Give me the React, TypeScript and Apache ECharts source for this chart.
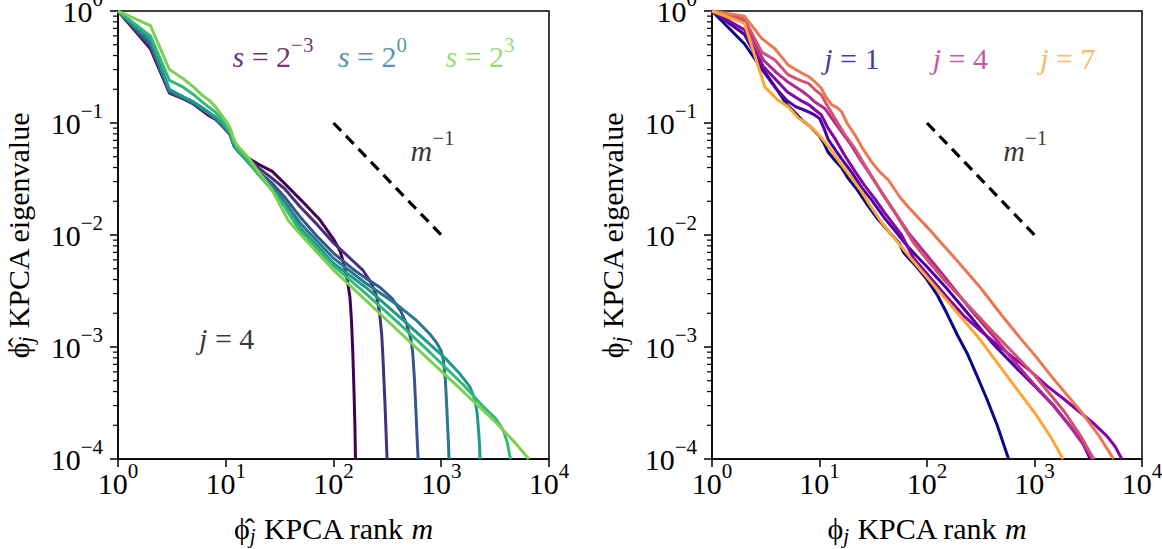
import React, { useEffect, useRef } from "react";
import * as echarts from "echarts";

const FONT = '"Liberation Serif", "DejaVu Serif", serif';

// ---- Left panel: j = 4, bandwidth s = 2^-3 ... 2^3 (viridis) ----
const sLabels = ["2^-3", "2^-2", "2^-1", "2^0", "2^1", "2^2", "2^3"];
const sColors = ["#440154", "#472f7d", "#39568c", "#2a788e", "#1f9a8a", "#35b779", "#7ad151"];

const sMinus3 = [[1,1],[2,0.46],[3,0.185],[4,0.165],[5,0.148],[6,0.13],[7,0.116],[8,0.108],[9,0.097],[10,0.087],[11,0.079],[12,0.062],[13,0.057],[16,0.049],[20,0.043],[27,0.037],[35,0.029],[50,0.0205],[75,0.0136],[100,0.0092],[115,0.0072],[123,0.0058],[133,0.0042],[142,0.0028],[147,0.0017],[151,0.0009],[155,0.0004],[158,0.0002],[160,0.0001]];
const sMinus2 = [[1,1],[2,0.48],[3,0.19],[4,0.167],[5,0.15],[6,0.132],[7,0.12],[8,0.11],[9,0.098],[10,0.088],[11,0.08],[12,0.063],[13,0.056],[16,0.047],[20,0.04],[27,0.032],[35,0.026],[49,0.0179],[70,0.0125],[100,0.0085],[140,0.0063],[189,0.0048],[225,0.0037],[252,0.0028],[268,0.002],[280,0.0013],[288,0.0008],[294,0.0005],[300,0.00032],[307,0.00018],[314,0.0001]];
const sMinus1 = [[1,1],[2,0.5],[3,0.19],[4,0.168],[5,0.15],[6,0.133],[7,0.12],[8,0.11],[9,0.098],[10,0.088],[11,0.078],[12,0.062],[13,0.056],[16,0.046],[20,0.037],[27,0.029],[35,0.022],[49,0.0145],[70,0.0098],[100,0.0069],[150,0.005],[200,0.0041],[271,0.0034],[350,0.0027],[420,0.0021],[478,0.0016],[520,0.0012],[543,0.0009],[565,0.0005],[583,0.00026],[598,0.00015],[610,0.0001]];
const s0 = [[1,1],[2,0.53],[3,0.195],[4,0.17],[5,0.152],[6,0.135],[7,0.122],[8,0.111],[9,0.1],[10,0.09],[11,0.08],[12,0.063],[13,0.056],[16,0.045],[20,0.036],[27,0.027],[35,0.02],[49,0.0128],[70,0.0089],[100,0.0062],[200,0.0037],[386,0.0024],[600,0.0017],[787,0.0013],[900,0.0011],[1000,0.00092],[1050,0.00075],[1090,0.00052],[1120,0.00032],[1145,0.0002],[1165,0.00014],[1180,0.0001]];
const s1 = [[1,1],[2,0.56],[3,0.2],[4,0.172],[5,0.155],[6,0.138],[7,0.124],[8,0.113],[9,0.102],[10,0.092],[11,0.081],[12,0.064],[13,0.056],[16,0.045],[20,0.035],[27,0.026],[35,0.019],[49,0.0116],[70,0.0081],[100,0.0056],[200,0.0034],[400,0.0019],[800,0.00104],[1123,0.00077],[1500,0.00057],[1849,0.00044],[2050,0.00034],[2150,0.00026],[2230,0.00017],[2270,0.00013],[2290,0.0001]];
const s2 = [[1,1],[2,0.6],[3,0.24],[4,0.21],[5,0.18],[6,0.155],[7,0.138],[8,0.125],[9,0.11],[10,0.095],[11,0.083],[12,0.066],[13,0.058],[16,0.046],[20,0.035],[27,0.025],[35,0.018],[49,0.0108],[70,0.0076],[100,0.0053],[200,0.003],[400,0.00164],[800,0.00088],[1600,0.00046],[2400,0.0003],[3200,0.00023],[3767,0.00018],[4100,0.00014],[4300,0.00011],[4400,0.0001]];
const s3 = [[1,1],[2,0.74],[3,0.3],[4,0.25],[5,0.21],[6,0.178],[7,0.16],[8,0.14],[9,0.12],[10,0.105],[11,0.09],[12,0.07],[13,0.062],[16,0.05],[20,0.037],[27,0.025],[38,0.0135],[49,0.0102],[100,0.00486],[200,0.0026],[400,0.00139],[800,0.000745],[1600,0.0004],[3200,0.000213],[5000,0.000135],[6500,0.0001]];
const sSeries = [sMinus3, sMinus2, sMinus1, s0, s1, s2, s3];

// ---- Right panel: j = 1 ... 7 (plasma) ----
const jLabels = ["1", "2", "3", "4", "5", "6", "7"];
const jColors = ["#0d0887", "#4c02a1", "#8305a7", "#b12a90", "#d35171", "#ec7853", "#fca636"];

const j1 = [[1,1],[2,0.51],[3,0.29],[4,0.2],[5,0.145],[6,0.122],[7,0.104],[8,0.095],[9,0.085],[10,0.076],[11,0.066],[12,0.055],[14,0.046],[16,0.04],[18.5,0.032],[22,0.026],[28,0.0185],[35,0.0138],[50,0.0094],[55,0.0085],[61,0.0069],[80,0.0052],[100,0.004],[125,0.0029],[153,0.002],[190,0.0013],[236,0.00088],[290,0.00056],[362,0.00034],[450,0.0002],[574,0.0001]];
const j2 = [[1,1],[2,0.62],[3,0.3],[4,0.2],[5,0.158],[6,0.14],[7,0.132],[8,0.125],[9,0.118],[10,0.11],[11,0.09],[12,0.072],[13,0.064],[16,0.048],[20,0.036],[25,0.026],[30,0.021],[40.6,0.014],[50,0.011],[62,0.0085],[80,0.0065],[100,0.0052],[150,0.0034],[250,0.0019],[400,0.0011],[700,0.00063],[1000,0.00045],[1500,0.0003],[2200,0.00019],[2800,0.00014],[3300,0.0001]];
const j3 = [[1,1],[2,0.68],[3,0.32],[4,0.24],[5,0.19],[6,0.17],[7,0.155],[8,0.145],[9,0.132],[10.4,0.118],[12,0.09],[13.9,0.073],[17,0.052],[21.4,0.037],[26,0.028],[32.8,0.021],[40,0.016],[58,0.01],[75,0.0062],[100,0.0045],[153,0.0028],[220,0.0019],[313,0.0014],[450,0.00105],[640,0.0008],[900,0.00062],[1306,0.00045],[1900,0.00034],[2670,0.00026],[3500,0.00021],[4720,0.00016],[5600,0.00013],[6500,0.0001]];
const j4 = [[1,1],[2,0.8],[3,0.365],[4,0.28],[5,0.235],[6,0.21],[7,0.19],[8,0.172],[9,0.155],[11.2,0.135],[13,0.11],[16.1,0.083],[20,0.062],[24.7,0.045],[30,0.034],[37.8,0.024],[50,0.016],[67,0.0105],[100,0.0066],[150,0.0041],[250,0.0022],[400,0.0013],[700,0.00068],[1000,0.00046],[1500,0.0003],[2200,0.00019],[3000,0.000125],[3450,0.0001]];
const j5 = [[1,1],[2,0.85],[2.9,0.43],[3.85,0.365],[5.1,0.27],[6,0.25],[7,0.235],[7.9,0.226],[9,0.2],[10.4,0.178],[12,0.14],[13.9,0.11],[17,0.08],[21.4,0.059],[26,0.043],[32.8,0.03],[40,0.022],[50,0.016],[75,0.0085],[100,0.006],[150,0.0038],[219,0.0026],[400,0.0014],[640,0.00088],[1000,0.00056],[1865,0.00027],[2700,0.00016],[3550,0.0001]];
const j6 = [[1,1],[2,0.9],[2.9,0.57],[3.85,0.46],[5.1,0.33],[6,0.3],[7,0.275],[7.9,0.26],[9,0.235],[10.4,0.204],[11.5,0.17],[13,0.145],[14.5,0.138],[16.1,0.126],[18,0.1],[21.4,0.078],[25,0.06],[30.5,0.045],[36,0.037],[43.7,0.031],[56.5,0.0215],[67,0.0178],[107,0.011],[137,0.0084],[200,0.0056],[313,0.0034],[500,0.0019],[738,0.0012],[1000,0.00085],[1500,0.00052],[2670,0.00027],[4000,0.00016],[5440,0.0001]];
const j7 = [[1,1],[2,0.78],[3.1,0.21],[4.1,0.16],[5.1,0.14],[6.4,0.11],[7.9,0.096],[9,0.086],[11.2,0.068],[13,0.056],[16.1,0.042],[20,0.032],[24.7,0.0244],[30,0.018],[37.8,0.013],[54,0.0085],[75,0.0058],[100,0.0042],[153,0.0026],[313,0.00116],[640,0.00046],[1000,0.00026],[1400,0.00016],[1842,0.0001]];
const jSeries = [j1, j2, j3, j4, j5, j6, j7];

// reference slope m^-1
const refLine = [[100, 0.1], [1000, 0.01]];

// y minor ticks (2..9 x 10^k)
const minorMultipliers = [2, 3, 4, 5, 6, 7, 8, 9];
const minorDecades = [-4, -3, -2, -1];

// annotation anchors [m, value]
const leftNotes = [
  { pos: [27.4, 0.39], text: "{it|s} = 2{sup|−3}", color: "#440154" },
  { pos: [230, 0.39], text: "{it|s} = 2{sup|0}", color: "#2a788e" },
  { pos: [2290, 0.39], text: "{it|s} = 2{sup|3}", color: "#7ad151" },
  { pos: [829, 0.057], text: "{it|m}{sup|−1}", color: "#000000" },
  { pos: [10.2, 0.0012], text: "{it|j} = 4", color: "#000000" },
];
const rightNotes = [
  { pos: [20, 0.38], text: "{it|j} = 1", color: "#0d0887" },
  { pos: [204, 0.38], text: "{it|j} = 4", color: "#b12a90" },
  { pos: [2041, 0.38], text: "{it|j} = 7", color: "#fca636" },
  { pos: [821, 0.057], text: "{it|m}{sup|−1}", color: "#000000" },
];

function richFor(color: string, base = 30) {
  return {
    it: { fontFamily: FONT, fontSize: base, fontStyle: "italic", color, lineHeight: base },
    sup: { fontFamily: FONT, fontSize: Math.round(base * 0.7), color, lineHeight: Math.round(base * 0.7), padding: [0, 0, Math.round(base * 0.8), 0] },
    sub: { fontFamily: FONT, fontSize: Math.round(base * 0.7), fontStyle: "italic", color, lineHeight: Math.round(base * 0.7), padding: [Math.round(base * 0.5), 0, 0, 0] },
  };
}

function expLabel(v: number) {
  const e = Math.round(Math.log10(v));
  return "10{sup|" + (e < 0 ? "−" + -e : String(e)) + "}";
}

function makeAxes(gi: number, xName: string, yName: string) {
  const common = {
    gridIndex: gi,
    type: "log" as const,
    logBase: 10,
    axisLine: { show: true, lineStyle: { color: "#000", width: 1.5 } },
    axisTick: { show: true, length: 8, lineStyle: { color: "#000", width: 1.5 } },
    splitLine: { show: false },
    minorTick: { show: false },
    nameLocation: "middle" as const,
    nameTextStyle: { fontFamily: FONT, fontSize: 30, color: "#000", lineHeight: 30, rich: richFor("#000") },
  };
  const x = {
    ...common,
    min: 1,
    max: 10000,
    axisLabel: { margin: 9, formatter: expLabel, fontFamily: FONT, fontSize: 30, color: "#000", lineHeight: 30, rich: richFor("#000"), showMinLabel: true, showMaxLabel: true },
    name: xName,
    nameGap: 44,
  };
  const y = {
    ...common,
    min: 0.0001,
    max: 1,
    axisLabel: { margin: 15, formatter: expLabel, fontFamily: FONT, fontSize: 30, color: "#000", lineHeight: 30, rich: richFor("#000"), showMinLabel: true, showMaxLabel: true },
    name: yName,
    nameRotate: 90,
    nameGap: 85,
  };
  return { x, y };
}

export default function App() {
  const ref = useRef<HTMLDivElement>(null);
  useEffect(() => {
    if (!ref.current) return;
    const chart = echarts.init(ref.current, null, { renderer: "svg" });
    const left = makeAxes(0, "ϕ\u0302{sub|j} KPCA rank {it|m}", "ϕ\u0302{sub|j} KPCA eigenvalue");
    const right = makeAxes(1, "ϕ{sub|j} KPCA rank {it|m}", "ϕ{sub|j} KPCA eigenvalue");

    const minorData: number[][] = [];
    minorDecades.forEach((d) => minorMultipliers.forEach((k) => minorData.push([1, k * Math.pow(10, d)])));

    const series: any[] = [];
    sSeries.forEach((data, i) =>
      series.push({
        type: "line", name: "s=" + sLabels[i], xAxisIndex: 0, yAxisIndex: 0, data, showSymbol: false, symbol: "none",
        lineStyle: { color: sColors[i], width: 3 }, itemStyle: { color: sColors[i] }, z: 2 + i * 0.01,
      })
    );
    jSeries.forEach((data, i) =>
      series.push({
        type: "line", name: "j=" + jLabels[i], xAxisIndex: 1, yAxisIndex: 1, data, showSymbol: false, symbol: "none",
        lineStyle: { color: jColors[i], width: 3 }, itemStyle: { color: jColors[i] }, z: 2 + i * 0.01,
      })
    );
    [0, 1].forEach((gi) => {
      series.push({
        type: "line", xAxisIndex: gi, yAxisIndex: gi, data: refLine, showSymbol: false, symbol: "none",
        lineStyle: { color: "#000", width: 3.2, type: [11, 7] }, z: 3,
      });
      series.push({
        type: "custom", xAxisIndex: gi, yAxisIndex: gi, data: minorData, silent: true, clip: false, z: 5,
        renderItem: (_p: any, api: any) => {
          const pt = api.coord([api.value(0), api.value(1)]);
          return { type: "line", shape: { x1: pt[0] - 5, y1: pt[1], x2: pt[0], y2: pt[1] }, style: { stroke: "#000", lineWidth: 1.2 } };
        },
      });
      const notes = gi === 0 ? leftNotes : rightNotes;
      notes.forEach((n) =>
        series.push({
          type: "scatter", xAxisIndex: gi, yAxisIndex: gi, data: [n.pos], symbolSize: 1, silent: true, z: 10,
          itemStyle: { color: "transparent" },
          label: {
            show: true, position: "inside", formatter: n.text, fontFamily: FONT, fontSize: 30, lineHeight: 30,
            color: n.color, rich: richFor(n.color),
          },
        })
      );
    });

    chart.setOption({
      animation: false,
      backgroundColor: "#fff",
      grid: [
        { left: 118, top: 11, width: 431, height: 448, show: true, borderColor: "#000", borderWidth: 1.5, backgroundColor: "transparent", containLabel: false, outerBoundsMode: "none" },
        { left: 712, top: 11, width: 430, height: 448, show: true, borderColor: "#000", borderWidth: 1.5, backgroundColor: "transparent", containLabel: false, outerBoundsMode: "none" },
      ],
      xAxis: [left.x, right.x],
      yAxis: [left.y, right.y],
      series,
    });
    return () => chart.dispose();
  }, []);
  return <div ref={ref} style={{ position: "fixed", left: 0, top: 0, width: 1162, height: 549, background: "#fff" }} />;
}
